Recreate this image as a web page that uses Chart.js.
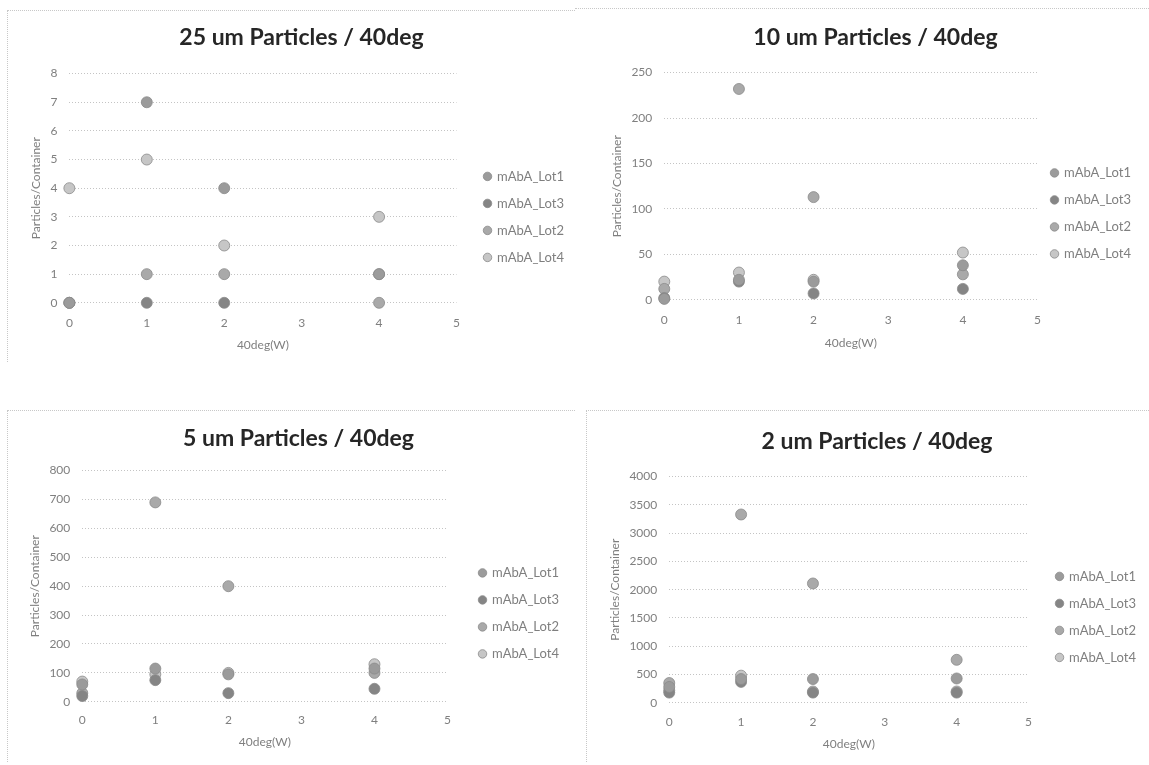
<!DOCTYPE html>
<html>
<head>
<meta charset="utf-8">
<script src="https://cdn.jsdelivr.net/npm/chart.js@4.4.1/dist/chart.umd.min.js"></script>
<style>
  body { margin: 0; background: #fff; width: 1149px; height: 765px; position: relative; overflow: hidden; }
  .panel { position: absolute; box-sizing: border-box; }
  .panel canvas { display: block; }
  #p1 { left: 7px; top: 10px; width: 568px; height: 352px; border-left: 1px dotted #c8c8c8; border-top: 1px dotted #c8c8c8; }
  #p2 { left: 575px; top: 8px; width: 574px; height: 356px; border-top: 1px dotted #c8c8c8; }
  #p3 { left: 7px; top: 410px; width: 568px; height: 352px; border-left: 1px dotted #c8c8c8; border-top: 1px dotted #c8c8c8; }
  #p4 { left: 586px; top: 410px; width: 563px; height: 352px; border-left: 1px dotted #c8c8c8; border-top: 1px dotted #c8c8c8; }
</style>
</head>
<body>
<div class="panel" id="p1"><canvas id="c1"></canvas></div>
<div class="panel" id="p2"><canvas id="c2"></canvas></div>
<div class="panel" id="p3"><canvas id="c3"></canvas></div>
<div class="panel" id="p4"><canvas id="c4"></canvas></div>
<script>
// weeks at 40deg
const weeks = [0, 1, 2, 4];
const lotNames = ['mAbA_Lot1', 'mAbA_Lot3', 'mAbA_Lot2', 'mAbA_Lot4'];
const lotColors = ['#9b9b9b', '#858585', '#a9a9a9', '#c6c6c6'];

// 25 um particles
const p25Lot1 = [0, 7, 4, 1];
const p25Lot3 = [0, 0, 0, 1];
const p25Lot2 = [0, 1, 1, 0];
const p25Lot4 = [4, 5, 2, 3];

// 10 um particles
const p10Lot1 = [1, 22, 20, 38];
const p10Lot3 = [2, 20, 7, 12];
const p10Lot2 = [12, 232, 113, 28];
const p10Lot4 = [20, 30, 22, 52];

// 5 um particles
const p5Lot1 = [60, 115, 95, 115];
const p5Lot3 = [20, 75, 30, 45];
const p5Lot2 = [30, 690, 400, 100];
const p5Lot4 = [70, 95, 100, 130];

// 2 um particles
const p2Lot1 = [280, 420, 420, 430];
const p2Lot3 = [180, 370, 180, 180];
const p2Lot2 = [350, 3330, 2110, 760];
const p2Lot4 = [220, 480, 200, 200];

const fontFamily = 'Lato, "Open Sans", sans-serif';
const textGray = '#7f7f7f';

// per-panel spacing, tuned by eye against the scan
function makeChart(canvasId, title, yMax, yStep, lots, lay) {
    const ctx = document.getElementById(canvasId).getContext('2d');
    const scales = {
        x: {
            min: 0,
            max: 5,
            grid: { display: false, drawTicks: false },
            border: { display: false },
            ticks: { stepSize: 1, padding: lay.xTick, color: textGray, font: { family: fontFamily, size: 12 } },
            title: { display: true, text: '40deg(W)', color: textGray, font: { family: fontFamily, size: 12 }, padding: { top: lay.xTitle, bottom: 2 } }
        },
        y: {
            min: 0,
            max: yMax,
            grid: { color: '#c4c4c4', lineWidth: 1, drawTicks: false },
            border: { display: false, dash: [1, 2] },
            ticks: { stepSize: yStep, padding: 12, color: textGray, font: { family: fontFamily, size: 12 }, callback: v => String(v) },
            title: { display: true, text: 'Particles/Container', color: textGray, font: { family: fontFamily, size: 12 }, padding: { top: 0, bottom: -5 } }
        }
    };
    // empty spacer between plot and legend
    if (lay.gap > 0) {
        scales.spacer = {
            type: 'linear',
            position: 'right',
            grid: { display: false, drawTicks: false },
            border: { display: false },
            ticks: { display: false },
            afterFit: s => { s.width = lay.gap; }
        };
    }
    new Chart(ctx, {
        type: 'scatter',
        data: {
            datasets: lots.map((vals, i) => ({
                label: lotNames[i],
                data: vals.map((v, j) => ({ x: weeks[j], y: v })),
                backgroundColor: lotColors[i],
                borderColor: '#8a8a8a',
                borderWidth: 0.8,
                pointRadius: 5.5,
                pointHoverRadius: 5.5,
                clip: false
            }))
        },
        options: {
            responsive: true,
            maintainAspectRatio: false,
            animation: false,
            layout: { padding: lay.pad },
            plugins: {
                tooltip: { enabled: false },
                title: {
                    display: true,
                    text: title,
                    color: '#262626',
                    font: { family: fontFamily, size: 23, weight: 'bold' },
                    padding: lay.title
                },
                legend: {
                    position: 'right',
                    fullSize: false,
                    maxWidth: 130,
                    title: { display: true, text: '', padding: { top: lay.legendDrop, bottom: 0 }, font: { size: 12 } },
                    labels: {
                        usePointStyle: true,
                        pointStyle: 'circle',
                        boxWidth: 6,
                        boxHeight: 6,
                        padding: 14,
                        color: textGray,
                        font: { family: fontFamily, size: 13 }
                    }
                }
            },
            scales: scales
        }
    });
}

makeChart('c1', '25 um Particles / 40deg', 8, 1, [p25Lot1, p25Lot3, p25Lot2, p25Lot4],
    { pad: { left: 21, right: 1, top: 0, bottom: 8 }, title: { top: 13, bottom: 22 }, xTick: 12.8, xTitle: -5.2, gap: 14, legendDrop: 43 });
makeChart('c2', '10 um Particles / 40deg', 250, 50, [p10Lot1, p10Lot3, p10Lot2, p10Lot4],
    { pad: { left: 35, right: 8, top: 0, bottom: 12 }, title: { top: 15, bottom: 21 }, xTick: 12.8, xTitle: -4.2, gap: 0, legendDrop: 40 });
makeChart('c3', '5 um Particles / 40deg', 800, 100, [p5Lot1, p5Lot3, p5Lot2, p5Lot4],
    { pad: { left: 20, right: 6, top: 0, bottom: 11 }, title: { top: 14, bottom: 18 }, xTick: 10.8, xTitle: -3.2, gap: 18, legendDrop: 40 });
makeChart('c4', '2 um Particles / 40deg', 4000, 500, [p2Lot1, p2Lot3, p2Lot2, p2Lot4],
    { pad: { left: 21, right: 3, top: 0, bottom: 9 }, title: { top: 17, bottom: 21 }, xTick: 11.8, xTitle: -4.2, gap: 14, legendDrop: 40 });
</script>
</body>
</html>
